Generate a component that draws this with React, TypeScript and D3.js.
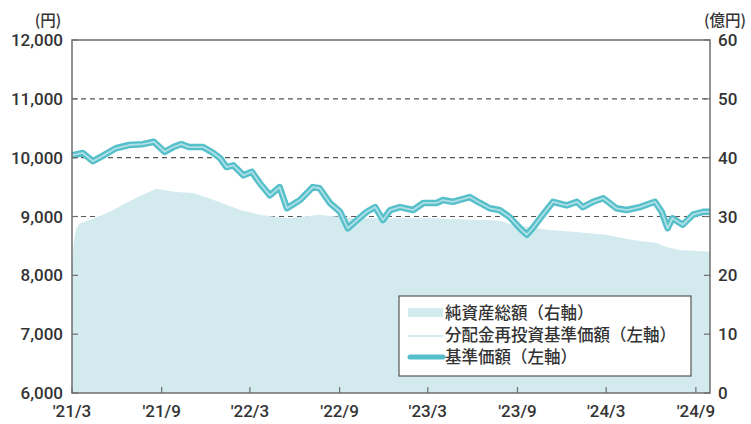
import * as d3 from 'd3'

const width = 751
const height = 424
const left = 72
const right = 710
const top = 40
const bottom = 393

// 基準価額 (円)
const navDates = [
  '2021-03-01', '2021-03-23', '2021-04-13', '2021-05-03', '2021-05-30', '2021-06-26', '2021-07-24', '2021-08-16',
  '2021-09-07', '2021-09-25', '2021-10-11', '2021-10-27', '2021-11-25', '2021-12-16', '2021-12-30', '2022-01-12',
  '2022-01-26', '2022-02-16', '2022-03-05', '2022-03-21', '2022-04-11', '2022-05-01', '2022-05-16', '2022-06-12',
  '2022-07-08', '2022-07-22', '2022-08-12', '2022-09-02', '2022-09-18', '2022-10-07', '2022-10-27', '2022-11-13',
  '2022-11-29', '2022-12-14', '2023-01-03', '2023-01-30', '2023-02-20', '2023-03-19', '2023-04-01', '2023-04-21',
  '2023-05-26', '2023-06-16', '2023-07-06', '2023-07-26', '2023-08-16', '2023-09-06', '2023-09-20', '2023-10-02',
  '2023-10-23', '2023-11-13', '2023-12-11', '2024-01-01', '2024-01-13', '2024-02-03', '2024-02-24', '2024-03-22',
  '2024-04-12', '2024-05-09', '2024-06-09', '2024-06-23', '2024-07-05', '2024-07-15', '2024-08-05', '2024-08-26',
  '2024-09-16', '2024-09-30',
]
const navValues = [
  10040, 10080, 9940, 10030, 10160, 10215, 10230, 10270,
  10100, 10180, 10230, 10180, 10180, 10080, 9990, 9840,
  9870, 9700, 9760, 9570, 9360, 9500, 9140, 9280,
  9500, 9480, 9230, 9080, 8800, 8940, 9080, 9160,
  8940, 9110, 9160, 9110, 9230, 9230, 9280, 9250,
  9330, 9230, 9140, 9110, 8990, 8800, 8690, 8800,
  9030, 9250, 9190, 9250, 9160, 9250, 9310, 9140,
  9110, 9160, 9250, 9080, 8800, 8970, 8860, 9030,
  9080, 9080,
]

// 純資産総額 (億円)
const aumDates = [
  '2021-03-01', '2021-03-05', '2021-03-10', '2021-03-17', '2021-04-13', '2021-04-25', '2021-05-18', '2021-06-20',
  '2021-07-19', '2021-08-21', '2021-09-25', '2021-11-05', '2021-12-07', '2022-01-12', '2022-02-09', '2022-03-21',
  '2022-05-16', '2022-07-22', '2022-09-28', '2022-12-07', '2023-03-06', '2023-06-16', '2023-07-26', '2023-08-22',
  '2023-09-26', '2023-11-05', '2023-12-23', '2024-03-01', '2024-04-24', '2024-06-12', '2024-07-02', '2024-07-29',
  '2024-09-30',
]
const aumValues = [
  22, 26, 28, 28.8, 29.6, 30, 30.8, 32.3,
  33.5, 34.7, 34.2, 34, 33.1, 32, 31.1, 30.3,
  29.7, 30.3, 29.7, 29.7, 29.7, 29.4, 29.3, 28.6,
  28.2, 27.7, 27.4, 26.9, 26, 25.5, 24.8, 24.3,
  24,
]

const leftTicks = [6000, 7000, 8000, 9000, 10000, 11000, 12000]
const rightTicks = [0, 10, 20, 30, 40, 50, 60]
const xTickDates = ['2021-03-01', '2021-09-01', '2022-03-01', '2022-09-01', '2023-03-01', '2023-09-01', '2024-03-01', '2024-09-01']
const xTickLabels = ["'21/3", "'21/9", "'22/3", "'22/9", "'23/3", "'23/9", "'24/3", "'24/9"]

const legendLabels = ['純資産総額（右軸）', '分配金再投資基準価額（左軸）', '基準価額（左軸）']

const parse = d3.utcParse('%Y-%m-%d')
const nav = navDates.map((d, i) => ({ date: parse(d) as Date, value: navValues[i] }))
const aum = aumDates.map((d, i) => ({ date: parse(d) as Date, value: aumValues[i] }))

const x = d3.scaleUtc([parse('2021-03-01') as Date, parse('2024-09-30') as Date], [left, right])
const yL = d3.scaleLinear([6000, 12000], [bottom, top])
const yR = d3.scaleLinear([0, 60], [bottom, top])

const line = d3
  .line<{ date: Date; value: number }>()
  .x(d => x(d.date))
  .y(d => yL(d.value))

const area = d3
  .area<{ date: Date; value: number }>()
  .x(d => x(d.date))
  .y0(yR(0))
  .y1(d => yR(d.value))

const axisColor = '#6f6f6f'
const textColor = '#333'
const numFont = 'Roboto, sans-serif'
const jpFont = '"Noto Sans CJK JP", sans-serif'
const fmt = d3.format(',')

export default function App() {
  return (
    <svg width={width} height={height} viewBox={`0 0 ${width} ${height}`}
      style={{ position: 'absolute', left: 0, top: 0, background: '#fff' }}>
      {/* dashed grid */}
      {leftTicks.slice(1, -1).map(t => (
        <line key={t} x1={left} x2={right} y1={yL(t)} y2={yL(t)}
          stroke="#555" strokeWidth={1.2} strokeDasharray="5 4" />
      ))}

      <path d={area(aum) ?? ''} fill="#d3ebef" />

      <path d={line(nav) ?? ''} fill="none" stroke="#55bfca" strokeWidth={6.5} strokeLinejoin="round" />
      <path d={line(nav) ?? ''} fill="none" stroke="#b0e0e6" strokeWidth={1.8} strokeLinejoin="round" />

      {/* frame */}
      <rect x={left} y={top} width={right - left} height={bottom - top} fill="none" stroke={axisColor} strokeWidth={1.5} />

      {/* left axis */}
      {leftTicks.map(t => (
        <g key={t}>
          <line x1={left} x2={left + 6} y1={yL(t)} y2={yL(t)} stroke={axisColor} strokeWidth={1.2} />
          <text x={63} y={yL(t)} dy="0.36em" textAnchor="end" fontFamily={numFont} fontWeight={500} fontSize={17} fill={textColor}>
            {fmt(t)}
          </text>
        </g>
      ))}
      <text x={48} y={20} dy="0.36em" textAnchor="middle" fontFamily={jpFont} fontWeight={500} fontSize={15.5} fill={textColor}>(円)</text>

      {/* right axis */}
      {rightTicks.map(t => (
        <g key={t}>
          <line x1={right - 6} x2={right} y1={yR(t)} y2={yR(t)} stroke={axisColor} strokeWidth={1.2} />
          <text x={718} y={yR(t)} dy="0.36em" textAnchor="start" fontFamily={numFont} fontWeight={500} fontSize={17} fill={textColor}>
            {t}
          </text>
        </g>
      ))}
      <text x={725} y={20} dy="0.36em" textAnchor="middle" fontFamily={jpFont} fontWeight={500} fontSize={15.5} fill={textColor}>(億円)</text>

      {/* bottom axis */}
      {xTickDates.map((d, i) => {
        const px = x(parse(d) as Date)
        return (
          <g key={d}>
            <line x1={px} x2={px} y1={bottom} y2={bottom - 6} stroke={axisColor} strokeWidth={1.2} />
            <text x={px} y={411} dy="0.36em" textAnchor="middle" fontFamily={numFont} fontWeight={500} fontSize={17} fill={textColor}>
              {xTickLabels[i]}
            </text>
          </g>
        )
      })}

      {/* legend */}
      <g transform="translate(399,296)">
        <rect x={0} y={0} width={292} height={80} fill="#fff" stroke="#555" strokeWidth={1.2} />
        <rect x={9} y={12} width={35} height={9} fill="#d3ebef" />
        <line x1={9} x2={44} y1={40} y2={40} stroke="#9fd9e0" strokeWidth={1.2} />
        <line x1={11} x2={44} y1={61} y2={61} stroke="#55bfca" strokeWidth={5} strokeLinecap="round" />
        {legendLabels.map((l, i) => (
          <text key={l} x={46} y={17 + i * 22} dy="0.36em" fontFamily={jpFont} fontWeight={500} fontSize={16.5} fill={textColor}>
            {l}
          </text>
        ))}
      </g>
    </svg>
  )
}
